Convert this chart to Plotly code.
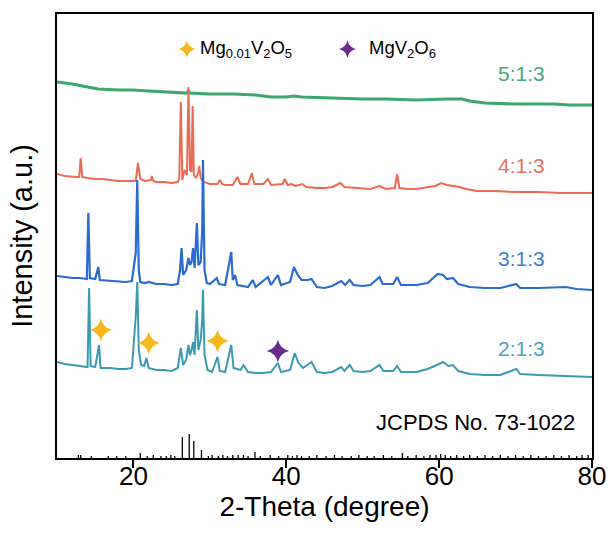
import plotly.graph_objects as go

# ---------------- data (2-theta in degree, intensity in a.u., stacked offsets included) ----
x_513 = [10, 12, 14, 15.4, 18, 20, 22, 24, 26, 27.0, 27.2, 27.4, 30, 33, 36, 38, 40, 41, 42, 45,
         50, 53, 57, 61, 63, 64, 66, 70, 75, 77, 80]
y_513 = [376, 374, 371, 369, 368, 368, 367, 366, 365, 365, 367, 365, 364, 364, 363, 361, 361, 362,
         361, 360, 359, 359, 358, 359, 359, 357, 355, 354, 354, 353, 353]

x_413 = [10, 11, 12.5, 12.9, 13.1, 13.3, 14, 15, 16, 17, 18, 19, 20.3, 20.6, 20.9, 21.5, 22.3, 22.4,
         22.6, 23, 24, 25, 25.8, 26.0, 26.2, 26.4, 26.7, 27.0, 27.2, 27.4, 27.6, 27.75, 27.9, 28.2,
         28.5, 28.6, 28.8, 29.2, 30, 31, 31.3, 31.6, 32, 33, 33.6, 34, 35, 35.5, 35.8, 37, 37.6, 38,
         39.5, 39.8, 40.2, 40.7, 41.2, 42.1, 42.6, 44, 45, 46, 47.1, 47.6, 49, 50, 51, 52.2, 53,
         54.2, 54.5, 54.8, 56, 57, 58, 59.5, 60.3, 61, 62.7, 63.5, 65, 67, 70, 73, 76, 80]
y_413 = [284, 282, 281, 281, 300, 281, 280, 279, 279, 278, 277, 277, 277, 295, 279, 277, 278, 282,
         277, 276, 276, 275, 276, 280, 356, 278, 288, 283, 371, 288, 286, 352, 283, 280,
         286, 292, 280, 276, 274, 274, 278, 274, 273, 273, 281, 274, 274, 285, 274, 274, 279, 273,
         274, 279, 273, 274, 272, 274, 271, 270, 270, 271, 275, 271, 270, 270, 269, 272, 269,
         270, 284, 270, 269, 269, 270, 272, 275, 273, 271, 269, 267, 267, 266, 266, 265, 265]

x_313 = [10, 11, 12, 13, 13.9, 14.1, 14.3, 15.0, 15.4, 15.6, 17, 18, 19, 19.8, 20.1, 20.3, 20.5, 20.7,
         20.9, 21.5, 22, 23, 24, 25, 25.8, 26.1, 26.3, 26.5, 26.9, 27.2, 27.4, 27.6, 27.8, 28.0,
         28.3, 28.5, 28.8, 29.0, 29.1, 29.3, 29.6, 30, 30.9, 31.2, 32, 32.8, 33.0, 33.3, 33.6, 35,
         35.6, 36, 37.6, 38, 38.9, 39.3, 40.5, 41.0, 41.5, 42.0, 42.8, 43.3, 44, 45, 46, 47.2, 47.7,
         48.3, 48.8, 50, 51, 52.2, 52.6, 54, 54.5, 55, 57, 58.5, 59.8, 60.5, 61, 61.8, 62.5, 64,
         66, 68, 70.1, 70.6, 73, 76.6, 78, 80]
y_313 = [182, 181, 180, 180, 179, 245, 180, 179, 191, 178, 177, 177, 176, 177, 196, 205, 278, 188,
         176, 175, 176, 174, 174, 173, 174, 188, 210, 183, 188, 200, 193, 196, 210, 190,
         235, 193, 196, 228, 298, 188, 175, 174, 180, 174, 173, 206, 178, 183, 173, 171,
         178, 171, 181, 173, 183, 173, 176, 191, 183, 178, 178, 179, 171, 170, 172, 177, 173,
         178, 173, 172, 173, 181, 174, 174, 181, 173, 173, 175, 184, 183, 179, 180, 174, 171,
         170, 170, 174, 170, 170, 171, 169, 168]

x_213 = [10, 11, 12, 13, 14, 14.2, 14.4, 15.0, 15.5, 15.7, 17, 18, 19, 19.8, 20.1, 20.3, 20.5, 20.7,
         21.0, 21.4, 21.7, 22.0, 23, 24, 25, 25.8, 26.2, 26.5, 26.9, 27.2, 27.4, 27.6, 27.8, 28.0,
         28.3, 28.5, 28.8, 29.0, 29.1, 29.3, 29.7, 30.3, 31.0, 31.3, 32, 32.8, 33.1, 34, 34.4, 35,
         36, 37, 38, 38.9, 39.3, 40.5, 41.1, 41.6, 42.2, 43.3, 44, 45, 46, 47.2, 47.6, 48.3, 48.8,
         50, 51, 52.2, 52.7, 54, 54.5, 55, 57, 58.5, 60.0, 60.5, 61.2, 61.8, 62.5, 64, 66, 68,
         70.1, 70.6, 73, 76, 78, 80]
y_213 = [96, 94, 93, 92, 91, 170, 92, 91, 113, 90, 90, 89, 89, 90, 118, 141, 176, 108,
         93, 92, 100, 90, 88, 88, 87, 90, 110, 93, 98, 113, 103, 108, 116, 103,
         148, 108, 118, 138, 168, 103, 88, 86, 101, 87, 86, 113, 90, 88, 93, 86,
         85, 85, 86, 95, 86, 88, 105, 95, 90, 96, 86, 85, 86, 91, 87, 93, 87,
         86, 87, 93, 87, 87, 92, 86, 86, 89, 94, 96, 92, 93, 87, 84, 83, 83,
         89, 84, 83, 82, 81, 81]

# JCPDS No. 73-1022 reference lines
ref_pos = [12.8, 13.1, 14.5, 16.7, 17.8, 19.0, 20.9, 21.8, 22.6, 23.6, 24.3, 24.9, 25.4, 26.4, 27.3,
           27.9, 28.9, 29.8, 30.3, 31.1, 31.7, 32.3, 33.0, 33.7, 34.4, 35.0, 35.9, 36.6, 37.9, 39.0,
           40.2, 40.8, 41.4, 42.0, 43.0, 44.0, 45.2, 46.3, 47.3, 48.5, 49.5, 50.6, 51.5, 52.7, 53.8,
           55.2, 55.9, 57.0, 58.0, 58.8, 59.6, 60.2, 60.8, 61.5, 62.3, 63.2, 64.0, 65.0, 66.0, 67.0,
           68.0, 69.0, 70.0, 71.0, 72.0, 73.0, 74.0, 75.0, 76.0, 77.0, 78.0, 78.7, 79.5]
ref_int = [3, 3, 2, 2, 2, 2, 5, 2, 3, 2, 2, 3, 2, 21, 24,
           17, 8, 2, 3, 2, 3, 2, 3, 3, 3, 2, 6, 2, 3, 2,
           3, 2, 3, 2, 2, 3, 2, 3, 2, 2, 3, 2, 2, 3, 2,
           5, 2, 3, 2, 3, 3, 4, 3, 2, 3, 2, 3, 2, 3, 2,
           3, 2, 3, 2, 3, 2, 2, 3, 2, 3, 2, 3, 3]

# phase markers
mg001_x = [15.75, 22.0, 31.0]
mg001_y = [128, 115, 117]
mgv2o6_x = [38.9]
mgv2o6_y = [107]

sample_names = ["5:1:3", "4:1:3", "3:1:3", "2:1:3"]
label_y = [385, 293, 200, 110]

# ---------------- styling ----------------
FONT = "Arial, Liberation Sans, sans-serif"
c_green, c_red, c_blue, c_teal = "#3aa86c", "#ec6a52", "#2a6bd0", "#3a9bb0"
lab_cols = ["#47a877", "#e8735f", "#3f7dcc", "#4aa6b8"]
c_orange, c_purple = "#f6b91c", "#6a2c91"

fig = go.Figure()

for xs, ys, col, w, nm in [(x_513, y_513, c_green, 3.2, "5:1:3"),
                           (x_413, y_413, c_red, 2.0, "4:1:3"),
                           (x_313, y_313, c_blue, 2.2, "3:1:3"),
                           (x_213, y_213, c_teal, 2.0, "2:1:3")]:
    fig.add_trace(go.Scatter(x=xs, y=ys, mode="lines", name=nm,
                             line=dict(color=col, width=w), showlegend=False))

# stick pattern
sx, sy = [], []
for p, h in zip(ref_pos, ref_int):
    sx += [p, p, None]
    sy += [0, h, None]
fig.add_trace(go.Scatter(x=sx, y=sy, mode="lines", line=dict(color="black", width=1.3),
                         showlegend=False, name="JCPDS No. 73-1022"))

fig.add_trace(go.Scatter(x=mg001_x, y=mg001_y, mode="markers", showlegend=False,
                         marker=dict(symbol="star-diamond", size=16, color=c_orange,
                                     line=dict(width=0))))
fig.add_trace(go.Scatter(x=mgv2o6_x, y=mgv2o6_y, mode="markers", showlegend=False,
                         marker=dict(symbol="star-diamond", size=16, color=c_purple,
                                     line=dict(width=0))))

# legend (manual, inside the frame)
leg_y = 409
fig.add_trace(go.Scatter(x=[27.0], y=[leg_y], mode="markers", showlegend=False,
                         marker=dict(symbol="star-diamond", size=12, color=c_orange, line=dict(width=0))))
fig.add_trace(go.Scatter(x=[48.0], y=[leg_y], mode="markers", showlegend=False,
                         marker=dict(symbol="star-diamond", size=12, color=c_purple, line=dict(width=0))))
fig.add_annotation(x=28.4, y=leg_y, text="Mg<sub>0.01</sub>V<sub>2</sub>O<sub>5</sub>",
                   showarrow=False, xanchor="left", yanchor="middle",
                   font=dict(family=FONT, size=18.5, color="black"))
fig.add_annotation(x=50.5, y=leg_y, text="MgV<sub>2</sub>O<sub>6</sub>",
                   showarrow=False, xanchor="left", yanchor="middle",
                   font=dict(family=FONT, size=18.5, color="black"))

for nm, ly, col in zip(sample_names, label_y, lab_cols):
    fig.add_annotation(x=70.8, y=ly, text=nm, showarrow=False, xanchor="center", yanchor="middle",
                       font=dict(family=FONT, size=21, color=col))

fig.add_annotation(x=78.1, y=36, text="JCPDS No. 73-1022", showarrow=False,
                   xanchor="right", yanchor="middle", font=dict(family=FONT, size=22, color="black"))

fig.update_layout(
    width=608, height=535,
    margin=dict(l=57, r=16, t=14, b=77, autoexpand=False),
    paper_bgcolor="white", plot_bgcolor="white",
    font=dict(family=FONT, color="black"),
    xaxis=dict(range=[10, 80], tickvals=[20, 40, 60, 80], ticks="outside", ticklen=8, tickwidth=2,
               tickcolor="black", showline=True, linewidth=2, linecolor="black", mirror=True,
               showgrid=False, zeroline=False, tickfont=dict(family=FONT, size=26),
               ticklabelstandoff=-14, automargin=False,
               title=dict(text="2-Theta (degree)", font=dict(family=FONT, size=28), standoff=0)),
    yaxis=dict(range=[0, 444], showticklabels=False, ticks="", showline=True, linewidth=2,
               linecolor="black", mirror=True, showgrid=False, zeroline=False, automargin=False,
               title=dict(text="Intensity (a.u.)", font=dict(family=FONT, size=29), standoff=14)),
)

fig.write_html("out.html")
